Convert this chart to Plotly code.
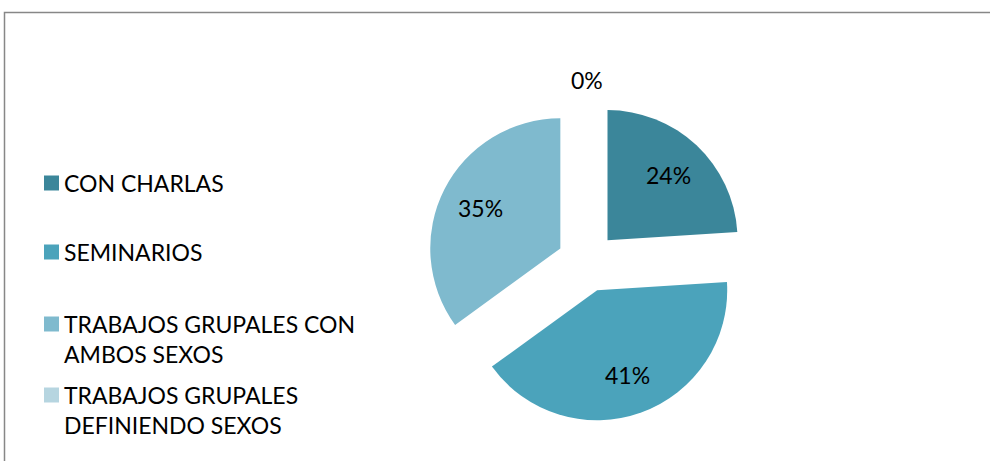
import math
import plotly.graph_objects as go

# Categories and their shares (percent)
categories = [
    "CON CHARLAS",
    "SEMINARIOS",
    "TRABAJOS GRUPALES CON AMBOS SEXOS",
    "TRABAJOS GRUPALES DEFINIENDO SEXOS",
]
legend_text = [
    "CON CHARLAS",
    "SEMINARIOS",
    "TRABAJOS GRUPALES CON<br>AMBOS SEXOS",
    "TRABAJOS GRUPALES<br>DEFINIENDO SEXOS",
]
values = [24, 41, 35, 0]
colors = ["#3B869A", "#4BA3BB", "#7FBACE", "#B6D5E0"]

W, H = 990, 461
FONT = "Lato"
FS = 23
PULL = 0.23

# Pie box (pixels): centre and half-size of the square domain
cx, cy, half = 587, 262, 160
dom_x = [(cx - half) / W, (cx + half) / W]
dom_y = [(H - cy - half) / H, (H - cy + half) / H]
radius = 2 * half / (2 + 2 * PULL)

fig = go.Figure(
    go.Pie(
        labels=categories,
        values=values,
        marker=dict(colors=colors, line=dict(width=0)),
        sort=False,
        direction="clockwise",
        rotation=0,
        pull=[PULL] * len(values),
        textinfo="none",
        hoverinfo="label+percent",
        showlegend=False,
        domain=dict(x=dom_x, y=dom_y),
    )
)

# Percentage labels placed along each slice bisector
total = sum(values)
annotations = []
cum = 0
for v in values:
    frac = v / total
    theta = 2 * math.pi * (cum + frac / 2)
    cum += frac
    dist = (PULL + 0.69) * radius if v > 0 else 1.4 * radius
    px = cx + dist * math.sin(theta)
    py = cy - dist * math.cos(theta)
    annotations.append(
        dict(
            x=px / W, y=1 - py / H, xref="paper", yref="paper",
            text=f"{round(frac * 100)}%", showarrow=False,
            font=dict(family=FONT, size=FS, color="#000000"),
            xanchor="center", yanchor="middle",
        )
    )

# Legend: coloured squares with wrapped labels
shapes = []
legend_rows = [183, 252, 324, 395]
sq = 15
for txt, col, ry in zip(legend_text, colors, legend_rows):
    shapes.append(
        dict(
            type="rect", xref="paper", yref="paper",
            x0=44 / W, x1=(44 + sq) / W,
            y0=1 - (ry + sq / 2) / H, y1=1 - (ry - sq / 2) / H,
            fillcolor=col, line=dict(width=0),
        )
    )
    annotations.append(
        dict(
            x=62 / W, y=1 - (ry - 16) / H, xref="paper", yref="paper",
            text=txt, showarrow=False, align="left",
            xanchor="left", yanchor="top",
            font=dict(family=FONT, size=FS, color="#000000"),
        )
    )

# Chart frame
shapes.append(
    dict(
        type="rect", xref="paper", yref="paper",
        x0=4.5 / W, x1=1.05, y0=-0.05, y1=1 - 12.5 / H,
        line=dict(color="#878787", width=1.5), fillcolor="rgba(0,0,0,0)",
        layer="below",
    )
)

fig.update_layout(
    width=W, height=H,
    margin=dict(l=0, r=0, t=0, b=0),
    paper_bgcolor="#FFFFFF",
    plot_bgcolor="#FFFFFF",
    font=dict(family=FONT, size=FS, color="#000000"),
    annotations=annotations,
    shapes=shapes,
)

fig.write_html("out.html")
